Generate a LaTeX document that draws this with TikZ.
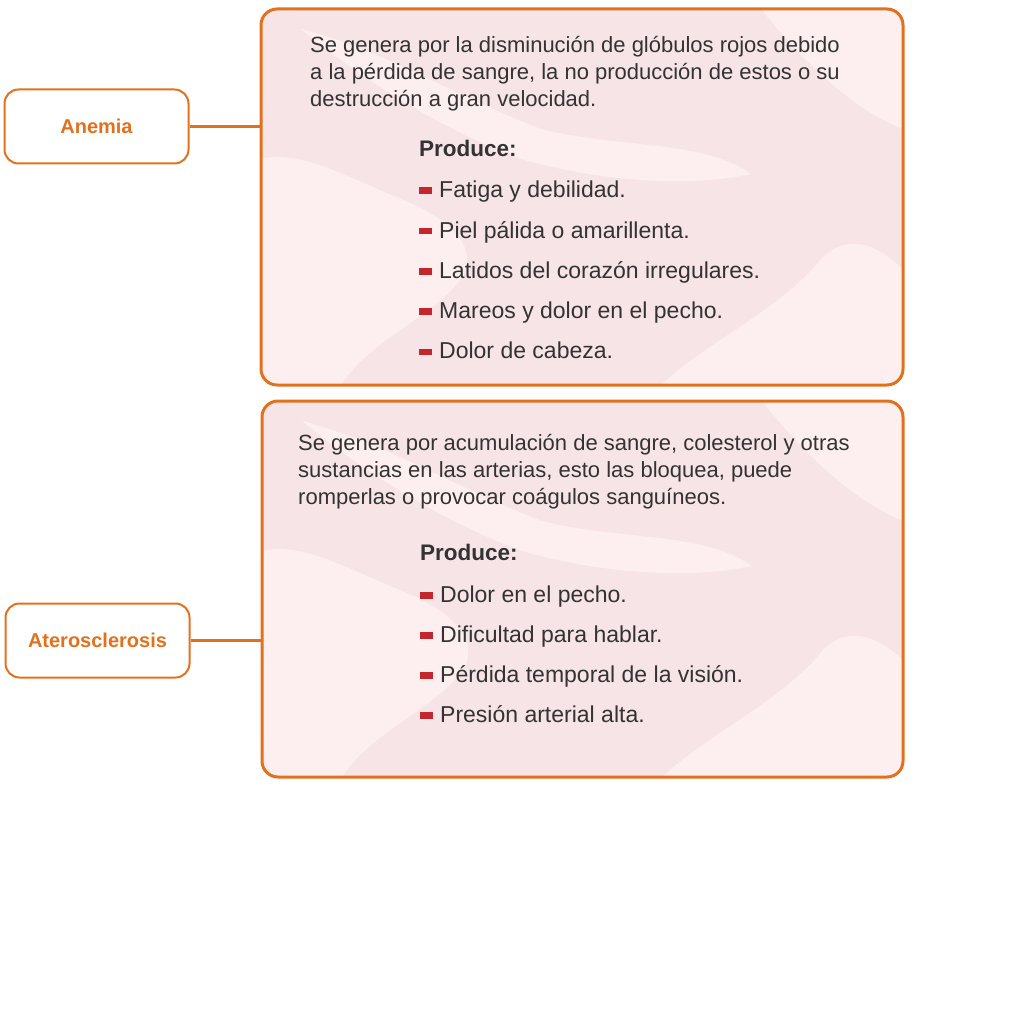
\documentclass[tikz,border=0pt]{standalone}
\usepackage{fontspec}
\setmainfont{Liberation Sans}
\definecolor{termorange}{HTML}{E2711D}
\definecolor{bodytext}{HTML}{333333}
\definecolor{markred}{HTML}{C4262E}
\definecolor{pinkbase}{HTML}{F7E4E6}
\definecolor{pinklight}{HTML}{FDEFEF}
\tikzset{
  term box/.style={draw=termorange, line width=2pt, rounded corners=14pt, fill=white,
    minimum width=184pt, minimum height=74pt, text=termorange,
    font=\fontsize{20}{22}\selectfont\bfseries},
  info box/.style={draw=termorange, line width=3pt, rounded corners=16pt,
    minimum width=642pt, minimum height=376pt},
  term link/.style={draw=termorange, line width=2.4pt},
  desc text/.style={anchor=base west, inner sep=0pt, text=bodytext,
    font=\fontsize{22}{27}\selectfont},
  head text/.style={anchor=base west, inner sep=0pt, text=bodytext,
    font=\fontsize{22.5}{26}\selectfont\bfseries},
  list text/.style={anchor=base west, inner sep=0pt, text=bodytext,
    font=\fontsize{23}{26}\selectfont},
  list mark/.style={fill=markred, minimum width=12.4pt, minimum height=6.7pt,
    inner sep=0pt, anchor=west}
}
% light waves inside a card, top left corner at (#1,#2)
\newcommand{\pinkwaves}[2]{%
  \begin{scope}[shift={(#1,#2)}]
    \fill[pinklight] (0,150) .. controls (40,140) and (90,170) .. (140,190)
      .. controls (190,210) and (220,240) .. (200,270)
      .. controls (170,310) and (110,330) .. (80,376) -- (0,376) -- cycle;
    \fill[pinklight] (40,20) .. controls (120,40) and (200,90) .. (280,120)
      .. controls (360,140) and (440,130) .. (490,165)
      .. controls (420,180) and (330,170) .. (260,150)
      .. controls (180,120) and (100,70) .. (40,20) -- cycle;
    \fill[pinklight] (500,0) .. controls (540,50) and (590,100) .. (642,120) -- (642,0) -- cycle;
    \fill[pinklight] (400,376) .. controls (450,330) and (520,300) .. (560,250)
      .. controls (590,220) and (620,240) .. (642,260) -- (642,376) -- cycle;
  \end{scope}}

\begin{document}
\begin{tikzpicture}[x=1pt, y=-1pt]
\useasboundingbox (0,0) rectangle (1024,1024);

% first card
\begin{scope}
  \clip[rounded corners=16pt] (261,9) rectangle (903,385);
  \fill[pinkbase] (261,9) rectangle (903,385);
  \pinkwaves{261}{9}
\end{scope}
\node[info box] (anemiacard) at (582,197) {};
\node[term box] (anemia) at (96.5,126.5) {Anemia};
\draw[term link] (anemia.east) -- (anemia.east -| anemiacard.west);

\foreach \ln [count=\k] in {{Se genera por la disminución de glóbulos rojos debido},
    {a la pérdida de sangre, la no producción de estos o su},
    {destrucción a gran velocidad.}}
  \node[desc text] (anemiadesc\k) at (310,{53+27*(\k-1)}) {\ln};
\node[head text] (anemiahead) at (419,157) {Produce:};
\foreach \txt [count=\k] in {Fatiga y debilidad., Piel pálida o amarillenta.,
    Latidos del corazón irregulares., Mareos y dolor en el pecho., Dolor de cabeza.}
{
  \node[list text] (anemiaitem\k) at (439,{197.7+40.3*(\k-1)}) {\txt};
  \node[list mark] at (419,{190.7+40.3*(\k-1)}) {};
}

% second card
\begin{scope}
  \clip[rounded corners=16pt] (262,401) rectangle (903,777);
  \fill[pinkbase] (262,401) rectangle (903,777);
  \pinkwaves{262}{401}
\end{scope}
\node[info box, minimum width=641pt] (ateroscard) at (582.5,589) {};
\node[term box] (ateros) at (97.5,640.5) {Aterosclerosis};
\draw[term link] (ateros.east) -- (ateros.east -| ateroscard.west);

\foreach \ln [count=\k] in {{Se genera por acumulación de sangre, colesterol y otras},
    {sustancias en las arterias, esto las bloquea, puede},
    {romperlas o provocar coágulos sanguíneos.}}
  \node[desc text] (aterosdesc\k) at (298,{450+27*(\k-1)}) {\ln};
\node[head text] (ateroshead) at (420,560) {Produce:};
\foreach \txt [count=\k] in {Dolor en el pecho., Dificultad para hablar.,
    Pérdida temporal de la visión., Presión arterial alta.}
{
  \node[list text] (aterositem\k) at (440,{602.7+40*(\k-1)}) {\txt};
  \node[list mark] at (420,{595.7+40*(\k-1)}) {};
}
\end{tikzpicture}
\end{document}
